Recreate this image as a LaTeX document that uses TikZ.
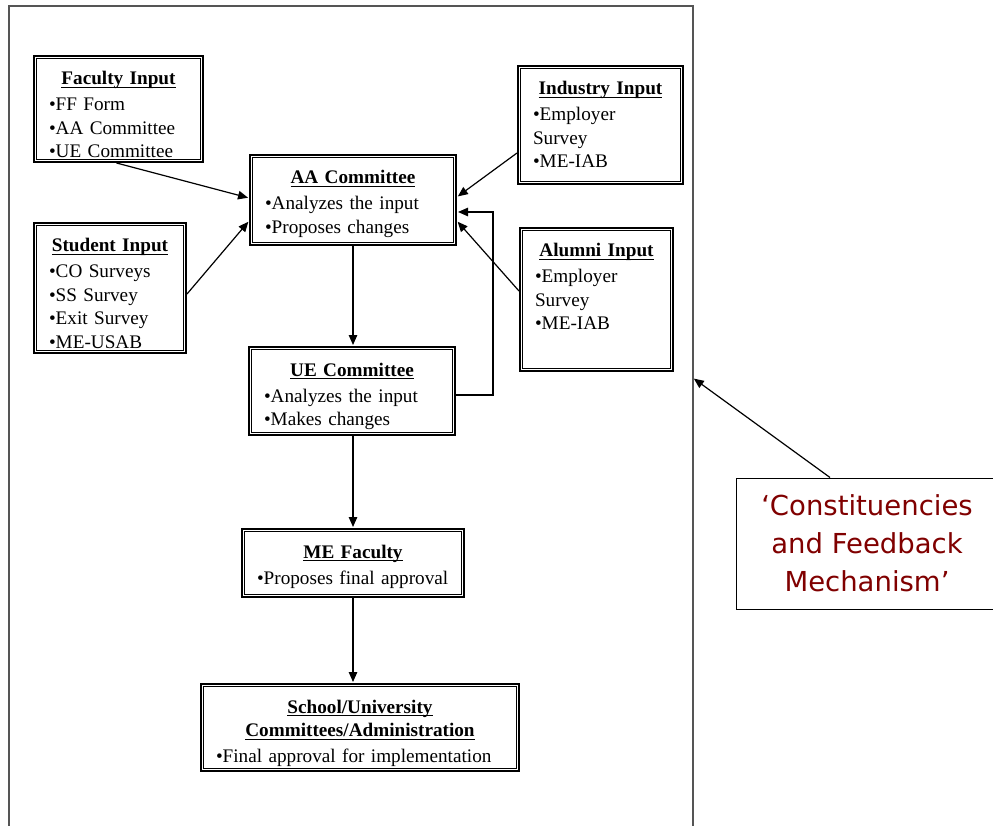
\documentclass[tikz,border=0pt]{standalone}
\usepackage{fontspec}
\setmainfont{Liberation Serif}
\newfontfamily\calfont{DejaVu Sans}
\usetikzlibrary{arrows.meta,calc}
\definecolor{calred}{RGB}{128,0,0}
\definecolor{framegray}{RGB}{85,85,85}
\newsavebox{\myulbox}
\newcommand{\myul}[1]{\leavevmode\sbox{\myulbox}{#1}\rlap{\rule[-3.2pt]{\wd\myulbox}{1.2pt}}\usebox{\myulbox}}
\newcommand{\ttl}[1]{{\centering\bfseries #1\par}\vspace{2.5pt}}
\tikzset{
  ibox/.style={draw, line width=2pt,
    path picture={\draw[line width=1pt]
      ([shift={(2.6pt,-2.6pt)}]path picture bounding box.north west) rectangle
      ([shift={(-2.6pt,2.6pt)}]path picture bounding box.south east);},
    inner xsep=15pt, inner ysep=0pt, anchor=north west, align=left,
    text height=29pt,
    font=\fontsize{19.2}{23.5}\selectfont},
  conn/.style={line width=1.2pt, -{Triangle[length=10pt,width=8.5pt]}, shorten >=1pt},
}
\begin{document}
\begin{tikzpicture}[x=1pt,y=-1pt]
\useasboundingbox (0,0) rectangle (993,826);
% outer frame
\draw[framegray, line width=2pt] (9,826) -- (9,6) -- (693,6) -- (693,826);
\coordinate (fr) at (693,378);

\node[ibox, text width=139pt, text depth=77pt] (fac) at (33,55)
  {\ttl{\myul{Faculty Input}}•FF Form\par •AA Committee\par •UE Committee};
\node[ibox, text width=122pt, text depth=101pt] (stu) at (33,222)
  {\ttl{\myul{Student Input}}•CO Surveys\par •SS Survey\par •Exit Survey\par •ME-USAB};
\node[ibox, text width=176pt, text depth=61pt] (aa) at (249,154)
  {\ttl{\myul{AA Committee}}•Analyzes the input\par •Proposes changes};
\node[ibox, text width=135pt, text depth=89pt] (ind) at (517,65)
  {\ttl{\myul{Industry Input}}•Employer\par Survey\par •ME-IAB};
\node[ibox, text width=123pt, text depth=114pt] (alu) at (519,227)
  {\ttl{\myul{Alumni Input}}•Employer\par Survey\par •ME-IAB};
\node[ibox, text width=176pt, text depth=59pt] (ue) at (248,346)
  {\ttl{\myul{UE Committee}}•Analyzes the input\par •Makes changes};
\node[ibox, text width=192pt, text depth=39pt] (me) at (241,528)
  {\ttl{\myul{ME Faculty}}•Proposes final approval};
\node[ibox, text width=288pt, text depth=58pt] (sch) at (200,683)
  {\ttl{\myul{School/University}\par\myul{Committees/Administration}}•Final approval for implementation};

\node[draw, line width=1pt, minimum width=262pt, minimum height=131pt,
  align=center, text=calred, inner sep=0pt,
  font=\calfont\fontsize{27.5}{38}\selectfont] (cal) at (867,543.5)
  {‘Constituencies\\and Feedback\\Mechanism’};

% connectors
\draw[conn] ([xshift=-2pt]fac.south) -- ([yshift=2pt]aa.west);
\draw[conn] ([yshift=-6pt]stu.east) -- ([yshift=-21pt]aa.west);
\draw[conn] ([yshift=-28pt]ind.west) -- ([yshift=3pt]aa.east);
\draw[conn] ([yshift=8.5pt]alu.west) -- ([yshift=-21pt]aa.east);
\draw[conn] ([yshift=-4pt]ue.east) -- ++(37,0) |- ([yshift=-12pt]aa.east);
\draw[conn] (aa.south) -- (aa.south |- ue.north);
\draw[conn] (me.north |- ue.south) -- (me.north);
\draw[conn] (me.south) -- (me.south |- sch.north);
\draw[conn] ([xshift=-37pt]cal.north) -- (fr);
\end{tikzpicture}
\end{document}
